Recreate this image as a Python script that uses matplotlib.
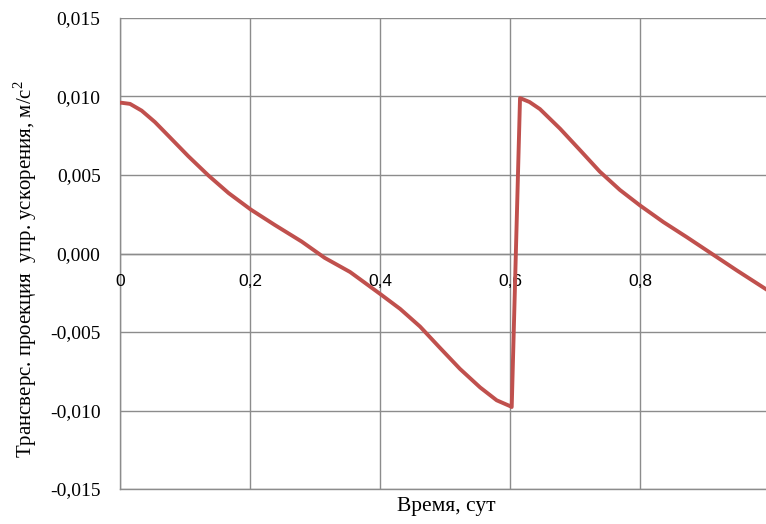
import matplotlib
matplotlib.use("Agg")
import matplotlib.pyplot as plt
import numpy as np

plt.rcParams["mathtext.fontset"] = "custom"
plt.rcParams["mathtext.rm"] = "Liberation Serif"

# Data
t = [0.0, 0.0026, 0.0154, 0.0333, 0.0538, 0.0744, 0.105, 0.136, 0.167, 0.2015,
     0.238, 0.2795, 0.315, 0.354, 0.4, 0.431, 0.4615, 0.492, 0.523, 0.554,
     0.5795, 0.6, 0.6026,
     0.6154, 0.63, 0.646, 0.677, 0.708, 0.738, 0.769, 0.8, 0.836, 0.872,
     0.908, 0.949, 0.994]
a = [0.00960, 0.00960, 0.00953, 0.00910, 0.00837, 0.00750, 0.00620, 0.00497,
     0.00385, 0.00279, 0.00182, 0.00076, -0.00028, -0.00118, -0.00257, -0.00353,
     -0.00465, -0.00600, -0.00735, -0.00853, -0.00935, -0.00972, -0.00978,
     0.00990, 0.00965, 0.00920, 0.00795, 0.00657, 0.00522, 0.00405, 0.00306,
     0.00200, 0.00104, 0.00005, -0.00108, -0.00228]

x_ticks = [0, 0.2, 0.4, 0.6, 0.8]
x_tick_labels = ["0", "0,2", "0,4", "0,6", "0,8"]
y_ticks = [-0.015, -0.010, -0.005, 0.0, 0.005, 0.010, 0.015]
y_tick_labels = ["-0,015", "-0,010", "-0,005", "0,000", "0,005", "0,010", "0,015"]

W, H = 766, 524
fig = plt.figure(figsize=(W / 100, H / 100), dpi=100)
ax = fig.add_axes([120 / W, 1 - 489 / H, (W - 120) / W, (489 - 18) / H])

grid_c = "#8c8c8c"
ax.set_xlim(0, 0.9938)
ax.set_ylim(-0.015, 0.015)
ax.set_xticks(x_ticks)
ax.set_yticks(y_ticks)
ax.grid(True, color=grid_c, lw=1.0)
ax.set_axisbelow(True)
for s in ["top", "right"]:
    ax.spines[s].set_visible(False)
for s in ["left", "bottom"]:
    ax.spines[s].set_color(grid_c)
    ax.spines[s].set_linewidth(1.0)
ax.tick_params(length=0)
ax.set_xticklabels([])
ax.set_yticklabels(y_tick_labels, family="Liberation Serif", fontsize=14)
ax.tick_params(axis="y", pad=14)

# zero line
ax.axhline(0, color=grid_c, lw=1.0, zorder=1)

# x tick labels placed below the zero line
for xv, lab in zip(x_ticks, x_tick_labels):
    ax.annotate(lab, (xv, 0), xytext=(0, -20), textcoords="offset points",
                ha="center", va="center", family="Liberation Sans", fontsize=12.5)

ax.plot(t, a, color="#c0504d", lw=2.8, solid_joinstyle="round", zorder=3)

fig.text(446 / W, 1 - 506 / H, "Время, сут", ha="center", va="center",
         family="Liberation Serif", fontsize=15.5)
fig.text(25 / W, 1 - 269 / H, "Трансверс. проекция  упр. ускорения, м/с$^2$",
         ha="center", va="center", rotation=90, family="Liberation Serif", fontsize=15)

fig.savefig("out.png", dpi=100)
